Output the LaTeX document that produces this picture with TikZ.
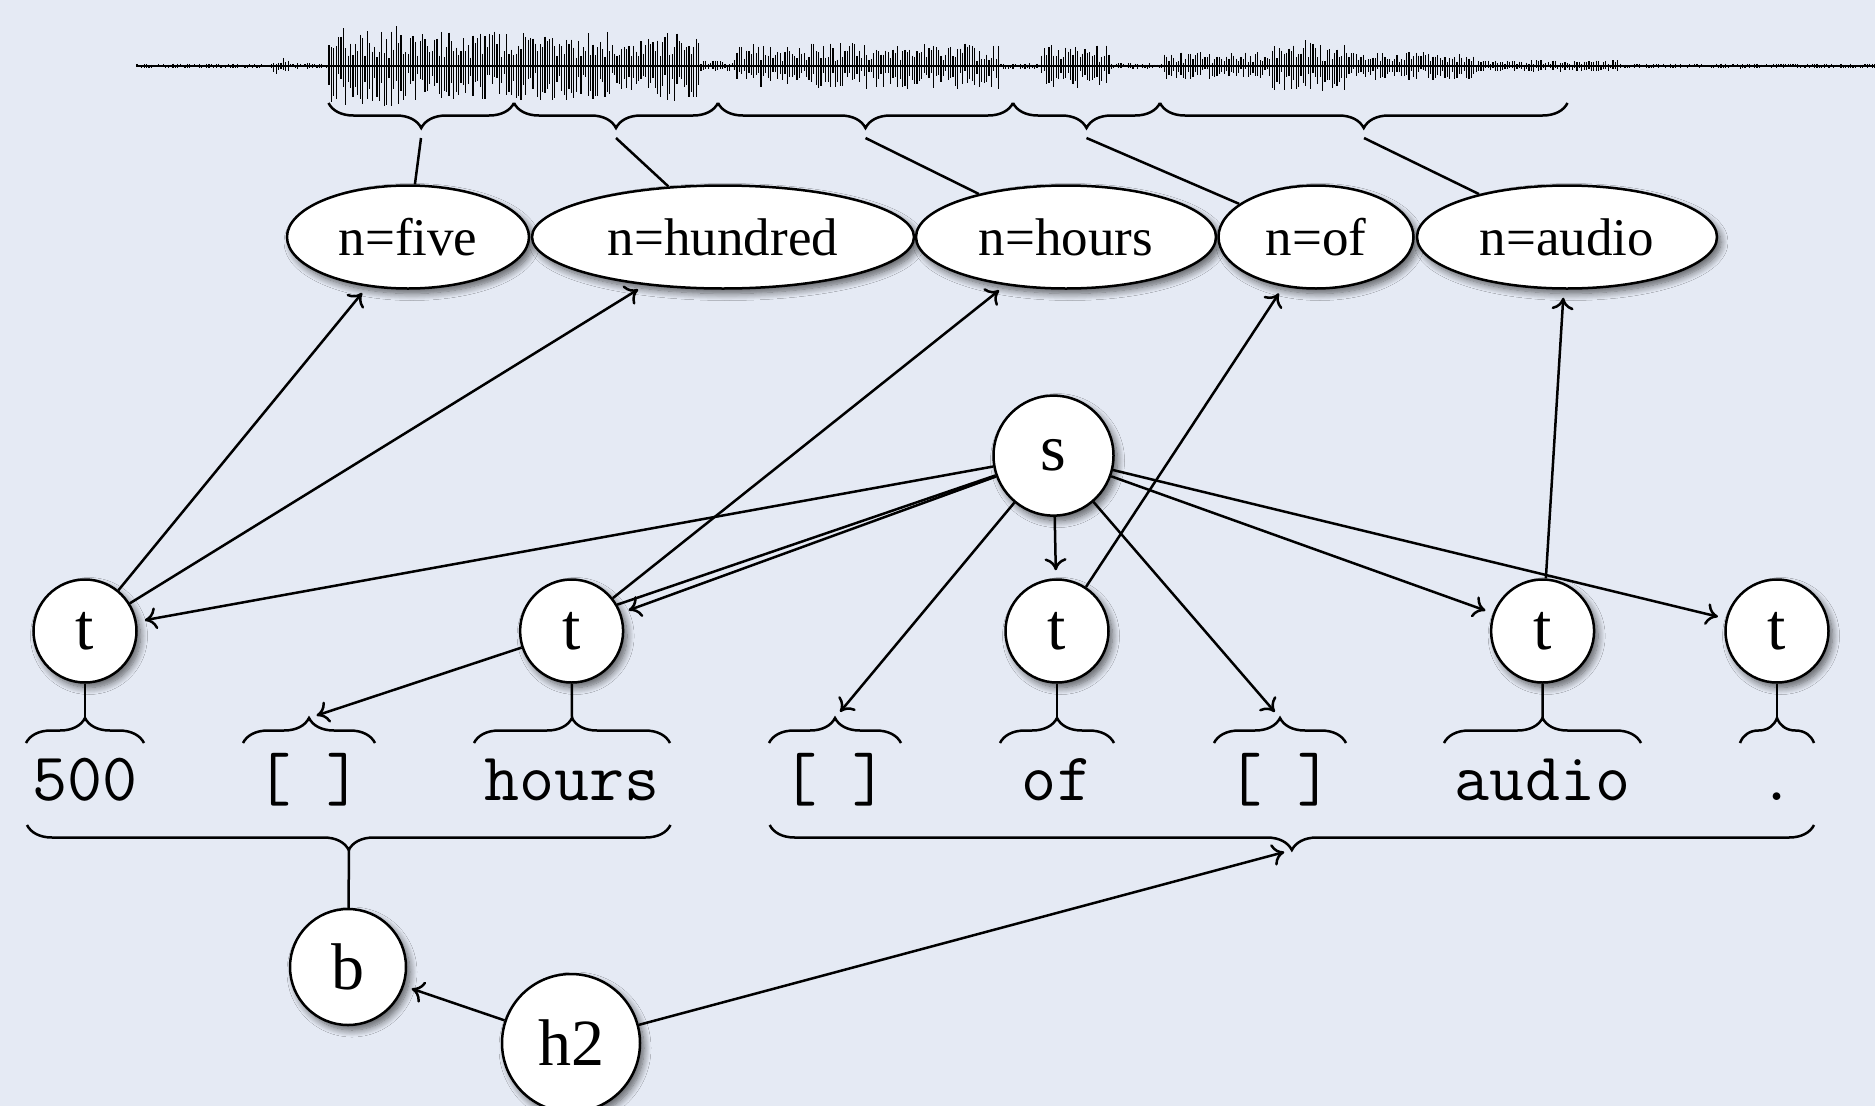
\documentclass[tikz,border=0pt]{standalone}
\usepackage{fontspec}
\setmainfont{Liberation Serif}
\usetikzlibrary{shapes.geometric,decorations.pathreplacing,arrows.meta,shadows.blur,calc}
\definecolor{bg}{RGB}{229,234,244}
\tikzset{
  shadowed/.style={blur shadow={shadow xshift=4pt,shadow yshift=-5pt,shadow blur steps=10,shadow blur radius=7pt,shadow opacity=60}},
  circ/.style={circle,draw,line width=2.5pt,fill=white,inner sep=0pt,font=\fontsize{66}{66}\selectfont,shadowed},
  ell/.style={ellipse,draw,line width=2.5pt,fill=white,inner sep=0pt,minimum height=103pt,font=\fontsize{53}{53}\selectfont,shadowed},
  tok/.style={font=\ttfamily\fontsize{68}{68}\selectfont,anchor=base,inner sep=0pt},
  ln/.style={line width=2.5pt},
  arr/.style={line width=2.5pt,-{Computer Modern Rightarrow[length=12pt,width=22pt]},shorten >=8pt},
  brc/.style={line width=2.5pt,decorate,decoration={brace,amplitude=25pt}},
  brcm/.style={line width=2.5pt,decorate,decoration={brace,mirror,amplitude=25pt}},
}
\begin{document}
\begin{tikzpicture}[x=1pt,y=-1pt]
\fill[bg] (0,0) rectangle (1875,1106);
\useasboundingbox (0,0) rectangle (1875,1106);

% waveform
\pgfmathsetseed{7}
\draw[line width=2.2pt] (137,66) -- (1875,66);
\foreach \x in {137,139.4,...,1875} {
  \pgfmathsetmacro\amp{\x<272 ? 2.5 : (\x<290 ? 9 : (\x<328 ? 3 : (\x<400 ? 40 : (\x<700 ? 35 : (\x<735 ? 6 : (\x<1000 ? 23 : (\x<1040 ? 3 : (\x<1110 ? 22 : (\x<1163 ? 3 : (\x<1270 ? 14 : (\x<1345 ? 26 : (\x<1475 ? 14 : (\x<1620 ? 6 : 2.5)))))))))))))}
  \pgfmathsetmacro\up{\amp*(0.2+0.8*rnd)}
  \pgfmathsetmacro\dn{\amp*(0.2+0.8*rnd)}
  \draw[line width=1.2pt] (\x,66-\up) -- (\x,66+\dn);
}

% top braces
\draw[brcm] (328.5,103) -- (514,103);
\draw[brcm] (514,103) -- (718,103);
\draw[brcm] (718,103) -- (1013,103);
\draw[brcm] (1013,103) -- (1160,103);
\draw[brcm] (1160,103) -- (1567.5,103);
\coordinate (wt1) at (421,138);
\coordinate (wt2) at (616,138);
\coordinate (wt3) at (865.5,138);
\coordinate (wt4) at (1086.5,138);
\coordinate (wt5) at (1364,138);

% ellipses
\node[ell,minimum width=242pt] (nfive) at (408,237) {n=five};
\node[ell,minimum width=382pt] (nhundred) at (723,237) {n=hundred};
\node[ell,minimum width=300pt] (nhours) at (1066,237) {n=hours};
\node[ell,minimum width=195pt] (nof) at (1316,237) {n=of};
\node[ell,minimum width=300pt] (naudio) at (1567,237) {n=audio};

% circles
\node[circ,minimum size=120pt] (s) at (1053.5,455.6) {s};
\node[circ,minimum size=103pt] (t1) at (85,631) {t};
\node[circ,minimum size=103pt] (t2) at (571.6,631) {t};
\node[circ,minimum size=103pt] (t3) at (1057,631) {t};
\node[circ,minimum size=103pt] (t4) at (1542.6,631) {t};
\node[circ,minimum size=103pt] (t5) at (1777,631) {t};
\node[circ,minimum size=116pt] (b) at (348,967) {b};
\node[circ,minimum size=138pt] (h2) at (571,1043) {h2};

% tokens
\node[tok] (k1) at (85,800) {500};
\node[tok] (k2) at (309,800) {[ ]};
\node[tok] (k3) at (572,800) {hours};
\node[tok] (k4) at (835,800) {[ ]};
\node[tok] (k5) at (1057,800) {of};
\node[tok] (k6) at (1280,800) {[ ]};
\node[tok] (k7) at (1542.5,800) {audio};
\node[tok] (k8) at (1777,800) {.};

% token braces
\draw[brc] (26,743) -- (144,743);
\draw[brc] (243,743) -- (375,743);
\draw[brc] (474,743) -- (670,743);
\draw[brc] (769,743) -- (901,743);
\draw[brc] (1000,743) -- (1114,743);
\draw[brc] (1214,743) -- (1346,743);
\draw[brc] (1444,743) -- (1641,743);
\draw[brc] (1740,743) -- (1814,743);
\coordinate (bt1) at (85,718);
\coordinate (bt2) at (309,718);
\coordinate (bt3) at (572,718);
\coordinate (bt4) at (835,718);
\coordinate (bt5) at (1057,718);
\coordinate (bt6) at (1280,718);
\coordinate (bt7) at (1542.5,718);
\coordinate (bt8) at (1777,718);

% big braces
\draw[brcm] (27,825) -- (670.5,825);
\draw[brcm] (769.7,825) -- (1814,825);
\coordinate (bb1) at (349,850);
\coordinate (bb2) at (1292,850);

% connectors: braces to ellipses
\draw[ln] (wt1) -- (nfive);
\draw[ln] (wt2) -- (nhundred);
\draw[ln] (wt3) -- (nhours);
\draw[ln] (wt4) -- (nof);
\draw[ln] (wt5) -- (naudio);

% t to ellipses
\draw[arr] (t1) -- (nfive);
\draw[arr] (t1) -- (nhundred);
\draw[arr] (t2) -- (nhours);
\draw[arr] (t3) -- (nof);
\draw[arr] (t4) -- (naudio);

% s edges
\draw[arr] (s) -- (t1);
\draw[arr] (s) -- (t2);
\draw[ln] (s) -- (t2.30);
\draw[arr] (s) -- (bt4);
\draw[arr] (s) -- (t3);
\draw[arr] (s) -- (bt6);
\draw[arr] (s) -- (t4);
\draw[arr] (s) -- (t5);
\draw[arr] (t2) -- (bt2);

% t to token braces
\draw[ln] (t1) -- (bt1);
\draw[ln] (t2) -- (bt3);
\draw[ln] (t3) -- (bt5);
\draw[ln] (t4) -- (bt7);
\draw[ln] (t5) -- (bt8);

% bottom
\draw[ln] (bb1) -- (b);
\draw[arr] (h2) -- (b);
\draw[arr] (h2) -- (bb2);
\end{tikzpicture}
\end{document}
